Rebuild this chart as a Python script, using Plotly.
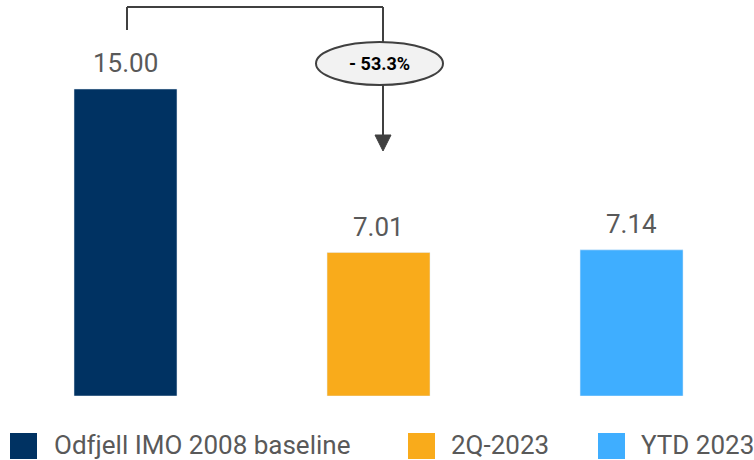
import plotly.graph_objects as go

categories = ["Odfjell IMO 2008 baseline", "2Q-2023", "YTD 2023"]
values = [15.00, 7.01, 7.14]
value_labels = ["15.00", "7.01", "7.14"]
colors = ["#003262", "#F9AB1B", "#3FAEFF"]
change_label = "- 53.3%"

W, H = 754, 460
PLOT_BOTTOM = 396  # pixel row of the baseline


def xp(px):
    return px / W


def yp(py):
    return (PLOT_BOTTOM - py) / PLOT_BOTTOM


fig = go.Figure()
fig.add_trace(go.Bar(
    x=categories, y=values, marker_color=colors, width=0.407,
    showlegend=False, hoverinfo="x+y",
))

annotations = []
for c, v, t in zip(categories, values, value_labels):
    annotations.append(dict(
        x=c, y=v, xref="x", yref="y", text=t, showarrow=False,
        yanchor="bottom", yshift=9,
        font=dict(family="Roboto", size=26, color="#595959"),
    ))

shapes = []
line_col = "#404040"
# bracket
shapes.append(dict(type="line", xref="paper", yref="paper",
                   x0=xp(127), x1=xp(127), y0=yp(30), y1=yp(7),
                   line=dict(color=line_col, width=2)))
shapes.append(dict(type="line", xref="paper", yref="paper",
                   x0=xp(127), x1=xp(383), y0=yp(7), y1=yp(7),
                   line=dict(color=line_col, width=2)))
shapes.append(dict(type="line", xref="paper", yref="paper",
                   x0=xp(383), x1=xp(383), y0=yp(7), y1=yp(137),
                   line=dict(color=line_col, width=2)))
# arrow head
shapes.append(dict(type="path", xref="paper", yref="paper",
                   path=f"M {xp(375)} {yp(135)} L {xp(391)} {yp(135)} L {xp(383)} {yp(151)} Z",
                   fillcolor=line_col, line=dict(color=line_col, width=1)))
# ellipse
shapes.append(dict(type="circle", xref="paper", yref="paper",
                   x0=xp(316), x1=xp(443), y0=yp(85), y1=yp(42),
                   fillcolor="#F2F2F2", line=dict(color=line_col, width=2)))
annotations.append(dict(
    x=xp(379.5), y=yp(63.5), xref="paper", yref="paper", text=f"<b>{change_label}</b>",
    showarrow=False, xanchor="center", yanchor="middle",
    font=dict(family="Roboto", size=18, color="#000000"),
))

# legend (manual, large square swatches)
leg_sq = [10, 408, 598]
leg_tx = [52, 449, 639]
for c, col, sx, tx in zip(categories, colors, leg_sq, leg_tx):
    shapes.append(dict(type="rect", xref="paper", yref="paper",
                       x0=xp(sx), x1=xp(sx + 27), y0=yp(459), y1=yp(433),
                       fillcolor=col, line=dict(width=0)))
    annotations.append(dict(
        x=xp(tx), y=yp(445), xref="paper", yref="paper", text=c,
        showarrow=False, xanchor="left", yanchor="middle",
        font=dict(family="Roboto", size=26, color="#595959"),
    ))

fig.update_layout(
    width=W, height=H,
    margin=dict(l=0, r=0, t=0, b=H - PLOT_BOTTOM),
    paper_bgcolor="white", plot_bgcolor="white",
    xaxis=dict(visible=False, range=[-0.496, 2.484]),
    yaxis=dict(visible=False, range=[0, PLOT_BOTTOM / (307 / 15)]),
    shapes=shapes, annotations=annotations,
    showlegend=False,
    font=dict(family="Roboto"),
)

fig.write_html("out.html")
